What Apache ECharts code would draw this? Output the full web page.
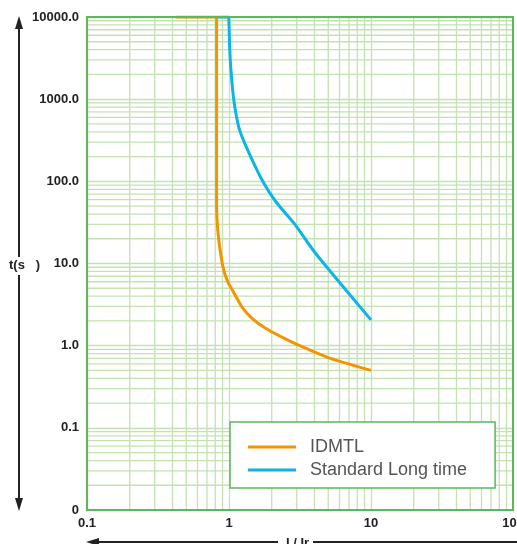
<!DOCTYPE html>
<html>
<head>
<meta charset="utf-8">
<script src="https://cdn.jsdelivr.net/npm/echarts@6/dist/echarts.min.js"></script>
<style>
    html, body {margin: 0; padding: 0; background: #fff;}
    #chart_1 {width: 517px; height: 544px;}
</style>
</head>
<body>
<div id="chart_1"></div>
<script>
// curve points [I/Ir, t(s)]
var idmtl = [
    [0.42, 10000], [0.814, 10000], [0.818, 10000], [0.818, 9500], [0.818, 50],
    [0.825, 33], [0.839, 22.5], [0.868, 14.2], [0.911, 8.8], [0.976, 6.1],
    [1.07, 4.57], [1.25, 2.86], [1.48, 2.09], [1.81, 1.63], [2.34, 1.28],
    [3.06, 1.02], [3.98, 0.84], [5.18, 0.7], [7.18, 0.59], [10, 0.5]
];
var standardLong = [
    [0.83, 10000], [0.996, 10000], [1.0, 10000], [1.003, 6935], [1.0095, 4548],
    [1.021, 2978], [1.039, 1954], [1.062, 1282], [1.082, 967], [1.125, 634],
    [1.19, 416], [1.39, 217], [1.72, 101.6], [2.12, 57.6], [2.91, 29.9],
    [3.88, 14.8], [5.18, 8.0], [10, 2.06]
];
var seriesNames = ['IDMTL', 'Standard Long time'];
var xTickValues = [0.1, 1, 10, 100];
var xTickLabels = ['0.1', '1', '10', '100'];
var yTickValues = [0.01, 0.1, 1, 10, 100, 1000, 10000];
var yTickLabels = ['0', '0.1', '1.0', '10.0', '100.0', '1000.0', '10000.0'];
var minorSteps = [2, 3, 4, 5, 6, 7, 8, 9];
var xDecades = [0.1, 1, 10];
var yDecades = [0.01, 0.1, 1, 10, 100, 1000];

function tickLabel(values, labels) {
    return function (v) {
        for (var i = 0; i < values.length; i++) {
            if (Math.abs(Math.log10(v) - Math.log10(values[i])) < 1e-6) return labels[i];
        }
        return '';
    };
}

// minor log grid lines: [x, y, 0 = vertical / 1 = horizontal]
var gridLines = [];
xDecades.forEach(function (d) {
    minorSteps.forEach(function (s) { gridLines.push([+(d * s).toPrecision(3), 1, 0]); });
});
yDecades.forEach(function (d) {
    minorSteps.forEach(function (s) { gridLines.push([1, +(d * s).toPrecision(3), 1]); });
});

var gridColor = '#c4e1b2';

var myChart = echarts.init(document.getElementById('chart_1'));
myChart.setOption({
    animation: false,
    textStyle: {fontFamily: 'Liberation Sans, Arial, sans-serif'},
    grid: {
        left: 87, right: 4, top: 17, bottom: 34,
        containLabel: false,
        outerBoundsMode: 'none',
        show: true,
        borderColor: '#5db75b',
        borderWidth: 2,
        z: 4
    },
    xAxis: {
        type: 'log',
        logBase: 10,
        min: 0.1,
        max: 100,
        axisLine: {show: true, lineStyle: {color: '#5db75b', width: 2}},
        axisTick: {show: false},
        splitLine: {show: true, lineStyle: {color: gridColor, width: 1.3}},
        axisLabel: {
            color: '#222',
            fontWeight: 'bold',
            fontSize: 13,
            margin: 7,
            formatter: tickLabel(xTickValues, xTickLabels)
        }
    },
    yAxis: {
        type: 'log',
        logBase: 10,
        min: 0.01,
        max: 10000,
        axisLine: {show: true, lineStyle: {color: '#5db75b', width: 2}},
        axisTick: {show: false},
        splitLine: {show: true, lineStyle: {color: gridColor, width: 1.3}},
        axisLabel: {
            color: '#222',
            fontWeight: 'bold',
            fontSize: 13,
            margin: 8,
            padding: [0, 0, 6, 0],
            formatter: tickLabel(yTickValues, yTickLabels)
        }
    },
    legend: {
        data: seriesNames,
        orient: 'vertical',
        left: 230,
        top: 422,
        padding: [16, 28, 9, 18],
        itemGap: 5,
        itemWidth: 48,
        itemHeight: 3,
        icon: 'rect',
        backgroundColor: '#fff',
        borderColor: '#5db75b',
        borderWidth: 1.5,
        borderRadius: 0,
        z: 10,
        textStyle: {color: '#555', fontSize: 18, padding: [0, 0, 0, 9]}
    },
    graphic: [
        // vertical arrow
        {type: 'line', shape: {x1: 19, y1: 24, x2: 19, y2: 504}, style: {stroke: '#222', lineWidth: 2}},
        {type: 'polygon', shape: {points: [[19, 16], [15, 29], [23, 29]]}, style: {fill: '#222'}},
        {type: 'polygon', shape: {points: [[19, 511], [15, 498], [23, 498]]}, style: {fill: '#222'}},
        {type: 'rect', shape: {x: 6, y: 257, width: 34, height: 18}, style: {fill: '#fff'}},
        {type: 'text', x: 9, y: 259, style: {text: 't(s   )', fill: '#222', font: 'bold 13px Liberation Sans, Arial'}},
        // horizontal arrow
        {type: 'line', shape: {x1: 94, y1: 542, x2: 517, y2: 542}, style: {stroke: '#222', lineWidth: 2}},
        {type: 'polygon', shape: {points: [[86, 542], [99, 538], [99, 546]]}, style: {fill: '#222'}},
        {type: 'rect', shape: {x: 278, y: 534, width: 35, height: 12}, style: {fill: '#fff'}},
        {type: 'text', x: 286, y: 537, style: {text: 'I / Ir', fill: '#222', font: 'bold 13px Liberation Sans, Arial'}}
    ],
    series: [
        {
            name: 'grid',
            type: 'custom',
            z: 1,
            silent: true,
            clip: true,
            data: gridLines,
            renderItem: function (params, api) {
                var isH = api.value(2) === 1;
                var v = isH ? api.value(1) : api.value(0);
                var p1 = isH ? api.coord([0.1, v]) : api.coord([v, 0.01]);
                var p2 = isH ? api.coord([100, v]) : api.coord([v, 10000]);
                return {
                    type: 'line',
                    shape: {x1: p1[0], y1: p1[1], x2: p2[0], y2: p2[1]},
                    style: {stroke: gridColor, lineWidth: 1.3}
                };
            }
        },
        {
            name: seriesNames[0],
            type: 'line',
            z: 3,
            smooth: 0.3,
            showSymbol: false,
            color: '#f39500',
            lineStyle: {width: 3, color: '#f39500'},
            data: idmtl
        },
        {
            name: seriesNames[1],
            type: 'line',
            z: 3,
            smooth: 0.3,
            showSymbol: false,
            color: '#0bb5e6',
            lineStyle: {width: 3, color: '#0bb5e6'},
            data: standardLong
        }
    ]
});
</script>
</body>
</html>
